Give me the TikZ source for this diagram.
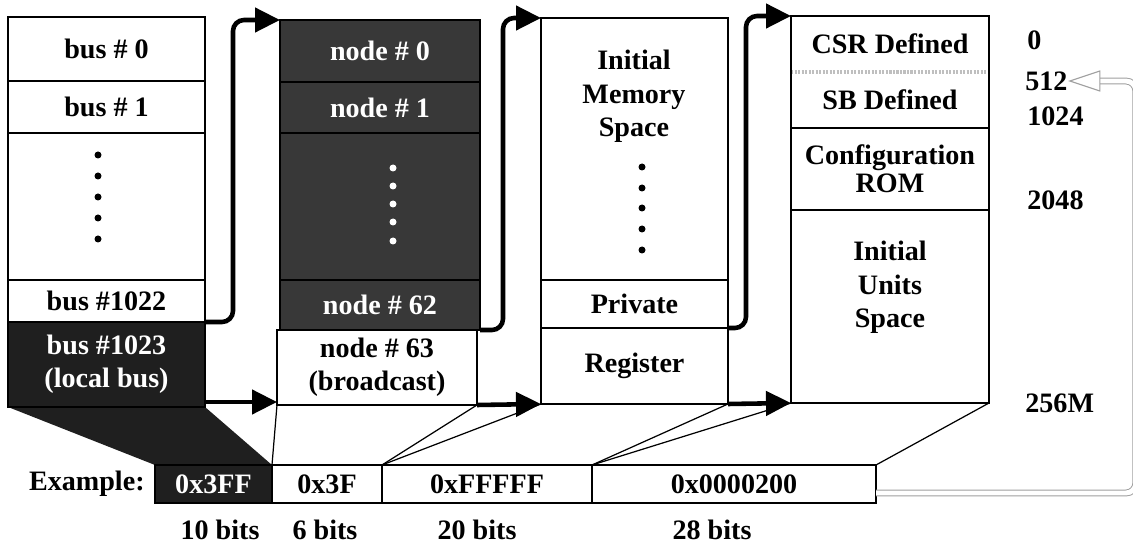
\documentclass[tikz,border=0pt]{standalone}
\usepackage{fontspec}
\setmainfont{Liberation Serif}
\usetikzlibrary{arrows.meta,calc,backgrounds}
\begin{document}
\begin{tikzpicture}[x=0.02cm,y=-0.02cm,
  font=\fontsize{16}{19}\selectfont\bfseries,
  sz/.style 2 args={minimum width=#1*0.02cm,minimum height=#2*0.02cm},
  cell/.style={draw, line width=0.7pt, inner sep=0pt, outer sep=0pt, anchor=north west, align=center, fill=white},
  darkcell/.style={cell, fill=black!78, text=white},
  conn/.style={line width=2.6pt, rounded corners=0.22cm, -{Triangle[length=0.5cm,width=0.48cm]}},
  thinln/.style={line width=0.7pt},
  colframe/.style={draw, line width=1.6pt},
  lbl/.style={anchor=west, inner sep=0pt},
  txt/.style={align=center, inner sep=0pt},
  hollow/.style={draw=gray!75, line width=0.55pt, double=white, double distance=2.8pt, rounded corners=0.2cm},
  dotc/.style={radius=0.07cm},
]
\useasboundingbox (0,0) rectangle (1133,547);

% ---- column 1: buses
\node[cell, sz={197}{64}] (b0) at (8,17) {bus \# 0};
\node[cell, sz={197}{52}] (b1) at (8,81) {bus \# 1};
\node[cell, sz={197}{147}] (bd) at (8,133) {};
\node[cell, sz={197}{42}] (b1022) at (8,280) {bus \#1022};
\node[cell, sz={197}{85}, fill=none, text=white] (b1023) at (8,322) {bus \#1023\\(local bus)};
\foreach \yy in {155,176,197,218,239} \fill (98,\yy) circle[dotc];

% ---- column 2: nodes
\node[darkcell, sz={200}{62}] (n0) at (280,20) {node \# 0};
\node[darkcell, sz={200}{51}] (n1) at (280,82) {node \# 1};
\node[darkcell, sz={200}{147}] (nd) at (280,133) {};
\node[darkcell, sz={200}{50}] (n62) at (280,280) {node \# 62};
\node[cell, sz={200}{75}] (n63) at (277,330) {node \# 63\\(broadcast)};
\foreach \yy in {168,186,204,222,241} \fill[white] (393,\yy) circle[dotc];

% ---- column 3: address space
\node[cell, sz={187}{262}] (mem) at (541,18) {};
\node[cell, sz={187}{48}] (priv) at (541,280) {Private};
\node[cell, sz={187}{76}] (reg) at (541,328) {Register};
\node[txt, anchor=north] (memT) at (634,50) {Initial\\Memory\\Space};
\foreach \yy in {167,188,208,229,250} \fill (642,\yy) circle[dotc];

% ---- column 4: register space
\node[cell, sz={198}{56}, draw=none] (csr) at (791,16) {CSR Defined};
\node[cell, sz={198}{56}, draw=none] (sb) at (791,72) {SB Defined};
\node[cell, sz={198}{82}, font=\fontsize{16}{16}\selectfont\bfseries] (rom) at (791,128) {Configuration\\ROM};
\node[cell, sz={198}{193}] (units) at (791,210) {};
\node[txt, anchor=north] (unitsT) at (890,241) {Initial\\Units\\Space};
\draw[gray!50, line width=2pt, dash pattern=on 1.2pt off 0.8pt] (sb.north west) -- (sb.north east);

% ---- column frames
\draw[colframe] (b0.north west) rectangle (b1023.south east);
\draw[colframe] (n0.north west) rectangle (n62.south east);
\draw[colframe] (n63.north west) rectangle (n63.south east);
\draw[colframe] (mem.north west) rectangle (reg.south east);
\draw[colframe] (csr.north west) rectangle (units.south east);

% ---- example row
\node[anchor=east, inner sep=0pt] (ex) at (145,484) {Example:};
\node[cell, sz={117}{38}, fill=none, text=white] (x3ff) at (155,465) {0x3FF};
\node[cell, sz={110}{38}] (x3f) at (272,465) {0x3F};
\node[cell, sz={210}{38}] (xf) at (382,465) {0xFFFFF};
\node[cell, sz={284}{38}] (x200) at (592,465) {0x0000200};

\node[txt] (bits10) at (220,530) {10 bits};
\node[txt] (bits6) at (325,530) {6 bits};
\node[txt] (bits20) at (477,530) {20 bits};
\node[txt] (bits28) at (712,530) {28 bits};

% ---- offsets on the right
\node[lbl] (l0) at (1027,40) {0};
\node[lbl] (l512) at (1025,81) {512};
\node[lbl] (l1024) at (1027,116) {1024};
\node[lbl] (l2048) at (1027,200) {2048};
\node[lbl] (l256) at (1025,403) {256M};

% ---- dark local-bus wedge
\begin{scope}[on background layer]
\fill[black!88] (b1023.north west) -- (b1023.north east) -- (b1023.south east)
  -- (x3ff.north east) -- (x3ff.south east) -- (x3ff.south west) -- (x3ff.north west)
  -- (b1023.south west) -- cycle;
\end{scope}

% ---- thin projection lines
\draw[thinln] (n63.south west) -- (x3f.north west);
\draw[thinln] (n63.south east) -- (xf.north west);
\draw[thinln] (reg.south west) -- (xf.north west);
\draw[thinln] (reg.south east) -- (x200.north west);
\draw[thinln] (units.south west) -- (x200.north west);
\draw[thinln] (units.south east) -- (x200.north east);

% ---- connectors
\draw[conn] (b1022.south east) -- ++(28,0) |- (n0.north west);
\draw[conn] (n62.south east) -- ++(23,0) |- (mem.north west);
\draw[conn] (priv.south east) -- ++(18,0) |- (csr.north west);
\draw[conn] ($(b1023.south east)+(0,-5)$) -- ($(n63.south west)+(0,-3)$);
\draw[conn] (n63.south east) -- (reg.south west);
\draw[conn] (reg.south east) -- (units.south west);

% ---- hollow return arrow
\coordinate (hs) at ($(x200.south east)+(0,-10)$);
\coordinate (ht) at ($(l512.east)+(2,0)$);
\draw[hollow] (hs) -| ($(ht)+(66,0)$) -- ($(ht)+(28,0)$);
\draw[gray!75, line width=0.6pt, fill=white] (ht) -- ++(30,-10) -- ++(0,20) -- cycle;
\end{tikzpicture}
\end{document}
